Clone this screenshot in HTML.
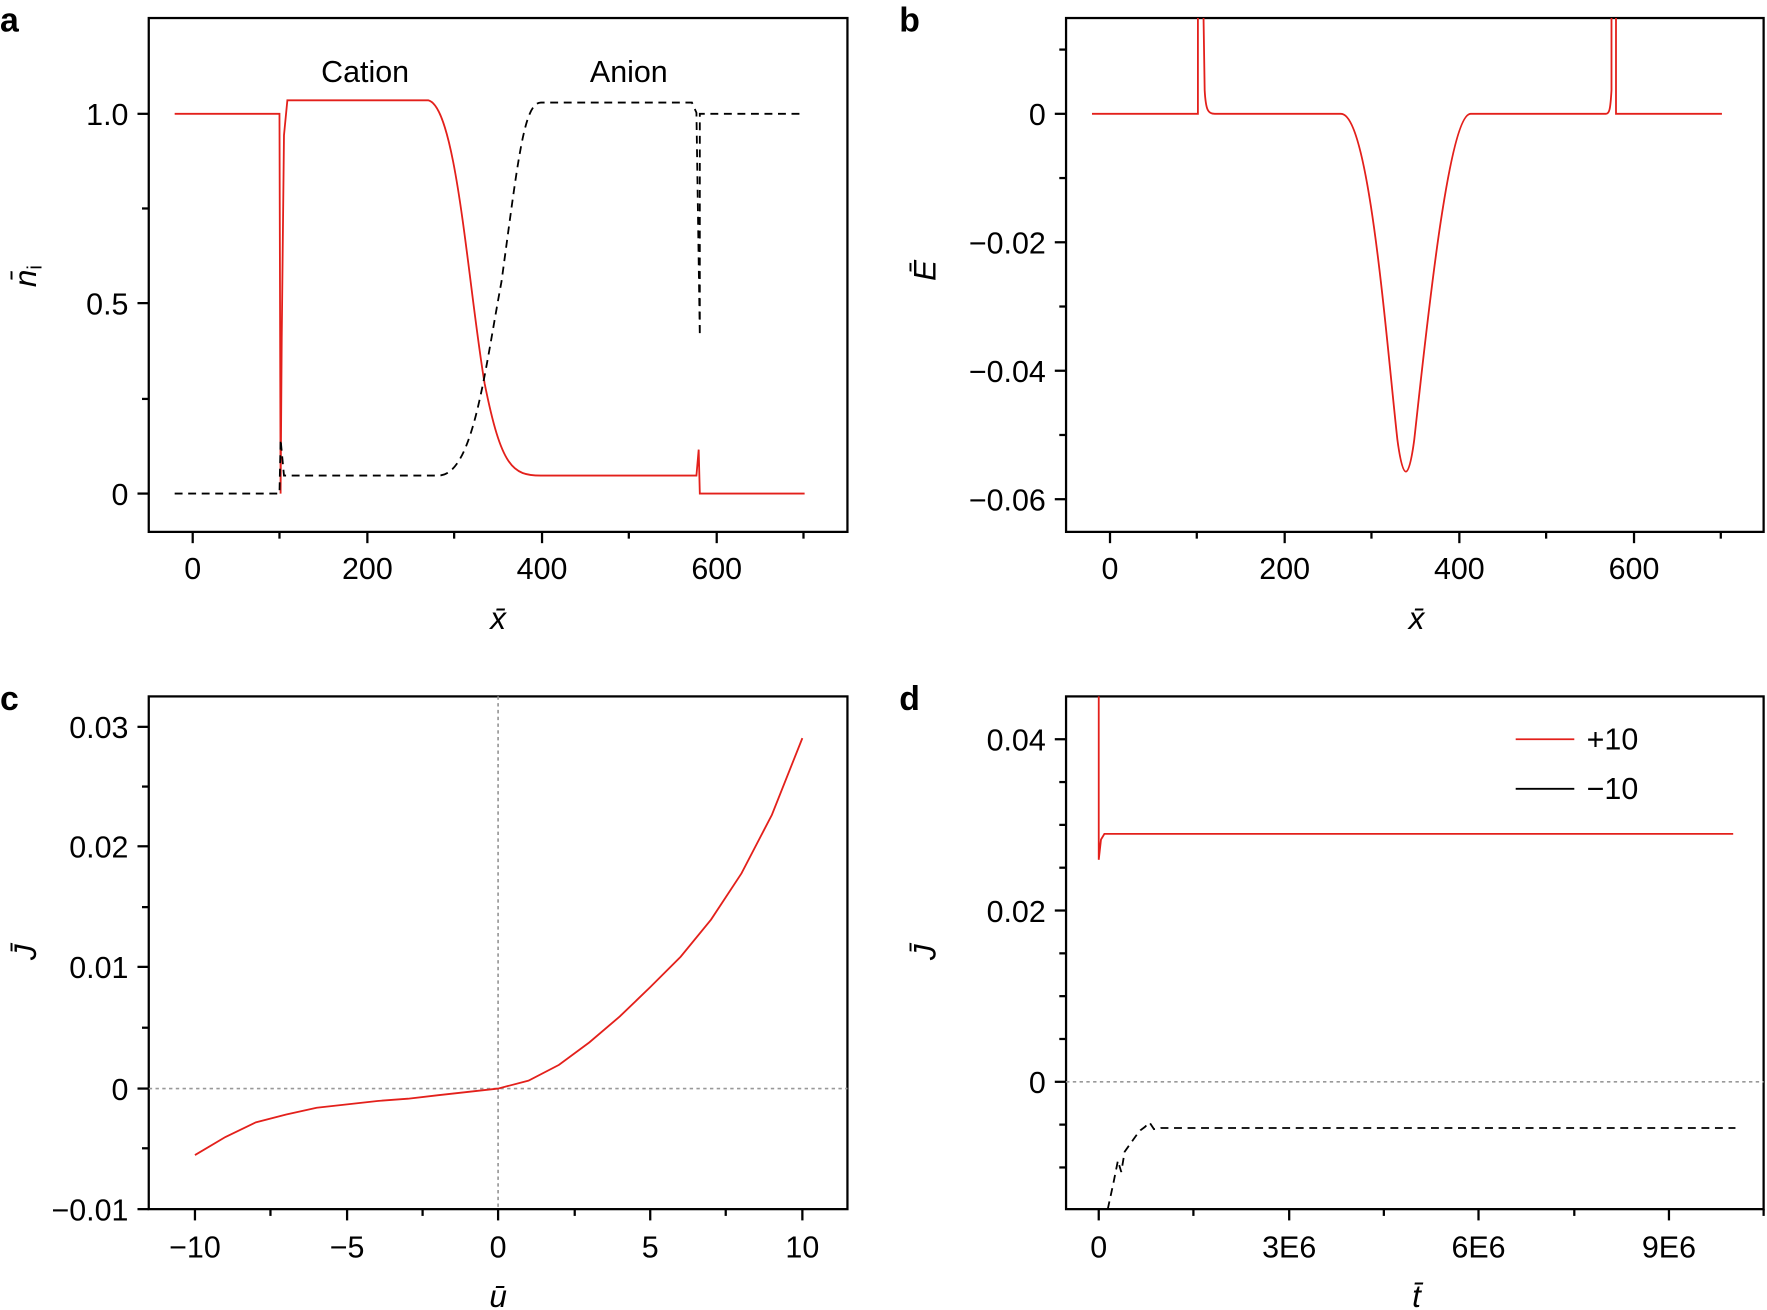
<!DOCTYPE html>
<html><head><style>html,body{margin:0;padding:0;background:#fff}svg{display:block}text{font-family:"Liberation Sans",sans-serif;fill:#000}</style></head>
<body>
<svg width="1767" height="1310" viewBox="0 0 1568 1162.5" preserveAspectRatio="none" xmlns="http://www.w3.org/2000/svg">
<g font-size="27" stroke-width="1.6">
<!-- Panel a -->
<text x="0" y="28" font-size="30" font-weight="bold">a</text>
<rect x="132" y="16" width="620" height="456" fill="none" stroke="#000" stroke-width="2"/>
<g stroke="#000" stroke-width="2">
<line x1="171" y1="472" x2="171" y2="482"/><line x1="326" y1="472" x2="326" y2="482"/><line x1="481" y1="472" x2="481" y2="482"/><line x1="636" y1="472" x2="636" y2="482"/>
<line x1="248" y1="472" x2="248" y2="478"/><line x1="403" y1="472" x2="403" y2="478"/><line x1="558" y1="472" x2="558" y2="478"/><line x1="713" y1="472" x2="713" y2="478"/>
<line x1="122" y1="101" x2="132" y2="101"/><line x1="122" y1="269" x2="132" y2="269"/><line x1="122" y1="438" x2="132" y2="438"/>
<line x1="126" y1="185" x2="132" y2="185"/><line x1="126" y1="354" x2="132" y2="354"/>
</g>
<g text-anchor="middle"><text x="171" y="514">0</text><text x="326" y="514">200</text><text x="481" y="514">400</text><text x="636" y="514">600</text></g>
<g text-anchor="end"><text x="114" y="111">1.0</text><text x="114" y="279">0.5</text><text x="114" y="448">0</text></g>
<text x="442" y="558" text-anchor="middle" font-style="italic" font-size="28">x̄</text>
<text transform="translate(32,245) rotate(-90)" text-anchor="middle" font-style="italic" font-size="28">n̄<tspan font-size="18" dy="5" font-style="normal">i</tspan></text>
<text x="324" y="73" text-anchor="middle">Cation</text><text x="558" y="73" text-anchor="middle">Anion</text>
<path d="M155,101 L248,101 L249,438 L250,300 L252,120 L255,89 L380,89 C405,95 415,250 430,340 C445,415 455,422 480,422 L618,422 L620,399 L621,438 L714,438" fill="none" stroke="#e3201b"/>
<path d="M155,438 L248,438 L249,390 L252,422 L390,422 C420,420 430,330 445,250 C460,140 465,91 480,91 L614,91 L618,100 L621,298 L621,101 L714,101" fill="none" stroke="#000" stroke-dasharray="7,5"/>

<!-- Panel b -->
<text x="798" y="28" font-size="30" font-weight="bold">b</text>
<rect x="946" y="16" width="619" height="456" fill="none" stroke="#000" stroke-width="2"/>
<g stroke="#000" stroke-width="2">
<line x1="985" y1="472" x2="985" y2="482"/><line x1="1140" y1="472" x2="1140" y2="482"/><line x1="1295" y1="472" x2="1295" y2="482"/><line x1="1450" y1="472" x2="1450" y2="482"/>
<line x1="1062" y1="472" x2="1062" y2="478"/><line x1="1217" y1="472" x2="1217" y2="478"/><line x1="1372" y1="472" x2="1372" y2="478"/><line x1="1527" y1="472" x2="1527" y2="478"/>
<line x1="936" y1="101" x2="946" y2="101"/><line x1="936" y1="215" x2="946" y2="215"/><line x1="936" y1="329" x2="946" y2="329"/><line x1="936" y1="443" x2="946" y2="443"/>
<line x1="940" y1="44" x2="946" y2="44"/><line x1="940" y1="158" x2="946" y2="158"/><line x1="940" y1="272" x2="946" y2="272"/><line x1="940" y1="386" x2="946" y2="386"/>
</g>
<g text-anchor="middle"><text x="985" y="514">0</text><text x="1140" y="514">200</text><text x="1295" y="514">400</text><text x="1450" y="514">600</text></g>
<g text-anchor="end"><text x="928" y="111">0</text><text x="928" y="225">−0.02</text><text x="928" y="339">−0.04</text><text x="928" y="453">−0.06</text></g>
<text x="1257" y="558" text-anchor="middle" font-style="italic" font-size="28">x̄</text>
<text transform="translate(830,240) rotate(-90)" text-anchor="middle" font-style="italic" font-size="28">Ē</text>
<path d="M969,101 L1063,101 L1063,16 M1068,16 L1069,80 C1070,98 1072,101 1078,101 L1190,101 C1215,101 1230,300 1240,390 C1245,428 1250,428 1255,390 C1265,300 1285,101 1305,101 L1425,101 C1428,101 1429,98 1430,80 L1430,16 M1434,16 L1434,101 L1528,101" fill="none" stroke="#e3201b"/>

<!-- Panel c -->
<text x="0" y="630" font-size="30" font-weight="bold">c</text>
<rect x="132" y="618" width="620" height="455" fill="none" stroke="#000" stroke-width="2"/>
<line x1="442" y1="618" x2="442" y2="1073" stroke="#999" stroke-dasharray="3,3" stroke-width="1.5"/>
<line x1="132" y1="966" x2="752" y2="966" stroke="#999" stroke-dasharray="3,3" stroke-width="1.5"/>
<g stroke="#000" stroke-width="2">
<line x1="173" y1="1073" x2="173" y2="1083"/><line x1="308" y1="1073" x2="308" y2="1083"/><line x1="442" y1="1073" x2="442" y2="1083"/><line x1="577" y1="1073" x2="577" y2="1083"/><line x1="712" y1="1073" x2="712" y2="1083"/>
<line x1="240" y1="1073" x2="240" y2="1079"/><line x1="375" y1="1073" x2="375" y2="1079"/><line x1="510" y1="1073" x2="510" y2="1079"/><line x1="644" y1="1073" x2="644" y2="1079"/>
<line x1="122" y1="645" x2="132" y2="645"/><line x1="122" y1="751" x2="132" y2="751"/><line x1="122" y1="858" x2="132" y2="858"/><line x1="122" y1="966" x2="132" y2="966"/><line x1="122" y1="1073" x2="132" y2="1073"/>
<line x1="126" y1="698" x2="132" y2="698"/><line x1="126" y1="805" x2="132" y2="805"/><line x1="126" y1="912" x2="132" y2="912"/><line x1="126" y1="1019" x2="132" y2="1019"/>
</g>
<g text-anchor="middle"><text x="173" y="1116">−10</text><text x="308" y="1116">−5</text><text x="442" y="1116">0</text><text x="577" y="1116">5</text><text x="712" y="1116">10</text></g>
<g text-anchor="end"><text x="114" y="655">0.03</text><text x="114" y="761">0.02</text><text x="114" y="868">0.01</text><text x="114" y="976">0</text><text x="114" y="1083">−0.01</text></g>
<text x="442" y="1160" text-anchor="middle" font-style="italic" font-size="28">ū</text>
<text transform="translate(32,845) rotate(-90)" text-anchor="middle" font-style="italic" font-size="28">J̄</text>
<polyline points="173,1025 200,1009 227,996 254,989 281,983 308,980 335,977 362,975 388,972 415,969 442,966 469,959 496,945 523,925 550,902 577,876 604,849 631,816 658,775 685,723 712,655" fill="none" stroke="#e3201b"/>

<!-- Panel d -->
<text x="798" y="630" font-size="30" font-weight="bold">d</text>
<rect x="946" y="618" width="619" height="455" fill="none" stroke="#000" stroke-width="2"/>
<line x1="946" y1="960" x2="1565" y2="960" stroke="#999" stroke-dasharray="3,3" stroke-width="1.5"/>
<g stroke="#000" stroke-width="2">
<line x1="975" y1="1073" x2="975" y2="1083"/><line x1="1144" y1="1073" x2="1144" y2="1083"/><line x1="1312" y1="1073" x2="1312" y2="1083"/><line x1="1481" y1="1073" x2="1481" y2="1083"/>
<line x1="1059" y1="1073" x2="1059" y2="1079"/><line x1="1228" y1="1073" x2="1228" y2="1079"/><line x1="1397" y1="1073" x2="1397" y2="1079"/><line x1="1565" y1="1073" x2="1565" y2="1079"/>
<line x1="936" y1="656" x2="946" y2="656"/><line x1="936" y1="808" x2="946" y2="808"/><line x1="936" y1="960" x2="946" y2="960"/>
<line x1="940" y1="694" x2="946" y2="694"/><line x1="940" y1="732" x2="946" y2="732"/><line x1="940" y1="770" x2="946" y2="770"/><line x1="940" y1="846" x2="946" y2="846"/><line x1="940" y1="884" x2="946" y2="884"/><line x1="940" y1="922" x2="946" y2="922"/><line x1="940" y1="998" x2="946" y2="998"/><line x1="940" y1="1036" x2="946" y2="1036"/>
</g>
<g text-anchor="middle"><text x="975" y="1116">0</text><text x="1144" y="1116">3E6</text><text x="1312" y="1116">6E6</text><text x="1481" y="1116">9E6</text></g>
<g text-anchor="end"><text x="928" y="666">0.04</text><text x="928" y="818">0.02</text><text x="928" y="970">0</text></g>
<text x="1257" y="1160" text-anchor="middle" font-style="italic" font-size="28">t̄</text>
<text transform="translate(830,845) rotate(-90)" text-anchor="middle" font-style="italic" font-size="28">J̄</text>
<path d="M975,618 L975,763 L977,745 L980,740 L1538,740" fill="none" stroke="#e3201b"/>
<path d="M983,1073 L988,1050 L992,1030 L995,1040 L998,1022 L1003,1015 L1008,1008 L1012,1003 L1016,1000 L1020,996 L1024,1002 L1030,1001 L1540,1001" fill="none" stroke="#000" stroke-dasharray="7,5"/>
<line x1="1345" y1="656" x2="1397" y2="656" stroke="#e3201b"/>
<text x="1408" y="665">+10</text>
<line x1="1345" y1="700" x2="1397" y2="700" stroke="#000"/>
<text x="1408" y="709">−10</text>
</g>
</svg>
</body></html>
